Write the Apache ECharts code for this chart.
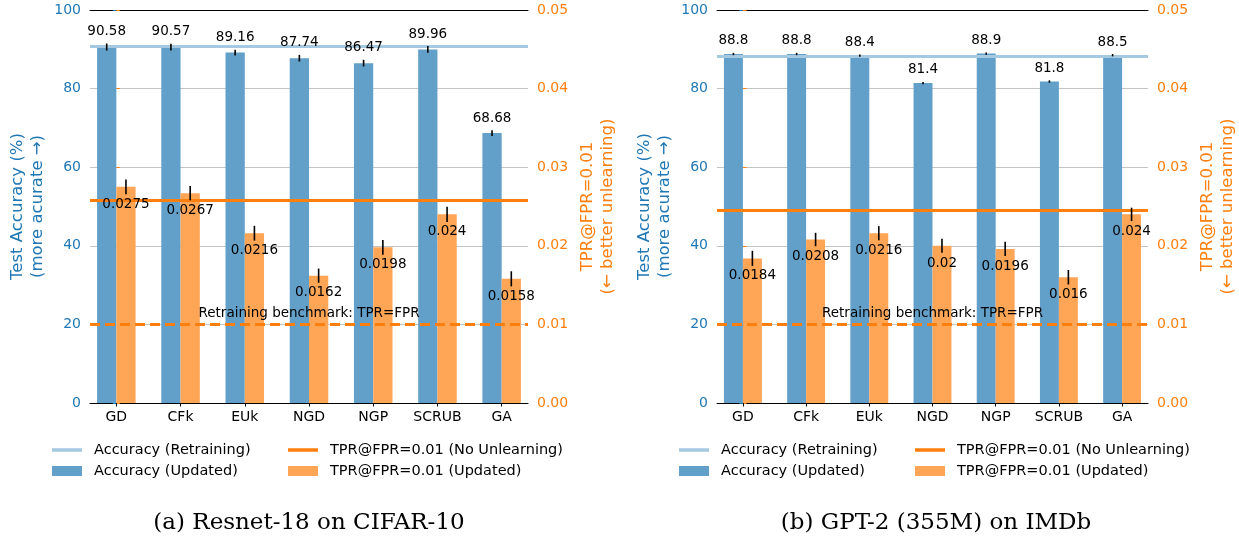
<!DOCTYPE html>
<html>
<head>
<meta charset="utf-8">
<script src="https://cdn.jsdelivr.net/npm/echarts@6/dist/echarts.min.js"></script>
<style>
html,body{margin:0;padding:0;background:#fff;}
#chart{width:1239px;height:539px;}
</style>
</head>
<body>
<div id="chart"></div>
<script>
// ---------- data ----------
const categories = ['GD', 'CFk', 'EUk', 'NGD', 'NGP', 'SCRUB', 'GA'];

// (a) Resnet-18 on CIFAR-10
const accA = [90.58, 90.57, 89.16, 87.74, 86.47, 89.96, 68.68];
const accErrA = [0.9, 0.85, 0.75, 0.85, 0.85, 0.85, 0.75];
const tprA = [0.0275, 0.0267, 0.0216, 0.0162, 0.0198, 0.024, 0.0158];
const tprErrA = [0.00095, 0.0009, 0.00094, 0.0009, 0.00094, 0.00098, 0.00096];
const accRetrainA = 90.7;
const tprNoUnlearnA = 0.0258;

// (b) GPT-2 (355M) on IMDb
const accB = [88.8, 88.8, 88.4, 81.4, 88.9, 81.8, 88.5];
const accErrB = [0.3, 0.3, 0.3, 0.3, 0.3, 0.3, 0.3];
const tprB = [0.0184, 0.0208, 0.0216, 0.02, 0.0196, 0.016, 0.024];
const tprErrB = [0.00096, 0.00085, 0.0009, 0.0009, 0.0009, 0.00092, 0.00085];
const accRetrainB = 88.3;
const tprNoUnlearnB = 0.0245;

const benchmarkTPR = 0.01;
const accAxisTicks = { min: 0, max: 100, interval: 20 };
const tprAxisTicks = { min: 0, max: 0.05, interval: 0.01 };
const xLimits = [-0.41, 6.41];
const captions = ['(a) Resnet-18 on CIFAR-10', '(b) GPT-2 (355M) on IMDb'];
const legendNames = ['Accuracy (Retraining)', 'Accuracy (Updated)', 'TPR@FPR=0.01 (No Unlearning)', 'TPR@FPR=0.01 (Updated)'];

// ---------- styles ----------
const FONT = 'DejaVu Sans';
const BLUE = '#1f77b4', ORANGE = '#ff7f0e';
const BAR_BLUE = '#62a0ca', BAR_ORANGE = '#ffa556';
const RETRAIN_BLUE = '#a5c9e1';
const BAR_W = 0.3;

const grids = [
  { left: 90, top: 10, width: 438, height: 393 },
  { left: 717, top: 10, width: 438, height: 393 }
];

function barRender(offset, color) {
  return function (params, api) {
    const i = api.value(0), v = api.value(1);
    const p0 = api.coord([i + offset, 0]);
    const p1 = api.coord([i + offset + BAR_W, v]);
    return {
      type: 'rect',
      shape: { x: p0[0], y: p1[1], width: p1[0] - p0[0], height: p0[1] - p1[1] },
      style: { fill: color }
    };
  };
}

function errRender(offset, above) {
  return function (params, api) {
    const i = api.value(0), v = api.value(1), e = api.value(2);
    const c = api.coord([i + offset, v]);
    const t = api.coord([i + offset, v + e]);
    const b = api.coord([i + offset, v - e]);
    const text = String(api.value(3));
    const ty = above ? t[1] - 5 : c[1] + 17.3;
    return {
      type: 'group',
      children: [
        { type: 'line', shape: { x1: c[0], y1: t[1], x2: c[0], y2: b[1] },
          style: { stroke: '#000', lineWidth: 1.6 } },
        { type: 'text', x: c[0], y: ty,
          style: { text: text, fill: '#000', font: '13.5px "' + FONT + '"',
                   align: 'center', verticalAlign: above ? 'bottom' : 'middle' } }
      ]
    };
  };
}

function hLine(value, color, width, type) {
  return {
    silent: true, symbol: 'none', animation: false, precision: 6, label: { show: false },
    lineStyle: { color: color, width: width, type: type }, data: [{ yAxis: value }]
  };
}

const option = {
  animation: false,
  backgroundColor: '#fff',
  textStyle: { fontFamily: FONT },
  grid: grids,
  xAxis: [],
  yAxis: [],
  series: [],
  legend: [],
  graphic: []
};

const datasets = [
  { acc: accA, accErr: accErrA, tpr: tprA, tprErr: tprErrA, retrain: accRetrainA, noUnlearn: tprNoUnlearnA },
  { acc: accB, accErr: accErrB, tpr: tprB, tprErr: tprErrB, retrain: accRetrainB, noUnlearn: tprNoUnlearnB }
];

const tickIdx = categories.map((c, i) => i);

datasets.forEach((d, g) => {
  option.xAxis.push({
    type: 'value', gridIndex: g, position: 'bottom', min: xLimits[0], max: xLimits[1],
    axisLine: { show: true, onZero: false, lineStyle: { color: '#000', width: 1 } },
    axisTick: { show: true, customValues: tickIdx, length: 3.5, lineStyle: { color: '#000' } },
    axisLabel: { show: true, customValues: tickIdx, margin: 7, fontSize: 14, color: '#000', fontFamily: FONT,
                 formatter: v => categories[Math.round(v)] },
    splitLine: { show: false }
  });
  // top spine
  option.xAxis.push({
    type: 'value', gridIndex: g, position: 'top', min: xLimits[0], max: xLimits[1],
    axisLine: { show: true, onZero: false, lineStyle: { color: '#000', width: 1 } },
    axisTick: { show: false }, axisLabel: { show: false }, splitLine: { show: false }
  });
  option.yAxis.push({
    type: 'value', gridIndex: g, position: 'left',
    min: accAxisTicks.min, max: accAxisTicks.max, interval: accAxisTicks.interval,
    name: 'Test Accuracy (%)\n(more acurate →)', nameLocation: 'middle', nameRotate: 90, nameGap: 42,
    nameTextStyle: { color: BLUE, fontSize: 16.5, lineHeight: 20, fontFamily: FONT },
    axisLine: { show: false },
    axisTick: { show: true, length: 3.5, lineStyle: { color: BLUE } },
    axisLabel: { color: BLUE, fontSize: 14, margin: 9, fontFamily: FONT },
    splitLine: { show: true, showMinLine: false, showMaxLine: false, lineStyle: { color: '#c4c4c4', width: 1 } }
  });
  option.yAxis.push({
    type: 'value', gridIndex: g, position: 'right',
    min: tprAxisTicks.min, max: tprAxisTicks.max, interval: tprAxisTicks.interval,
    name: 'TPR@FPR=0.01\n(← better unlearning)', nameLocation: 'middle', nameRotate: 90, nameGap: 50,
    nameTextStyle: { color: ORANGE, fontSize: 16.5, lineHeight: 20, fontFamily: FONT },
    axisLine: { show: false },
    axisTick: { show: true, length: 3.5, lineStyle: { color: ORANGE } },
    axisLabel: { color: ORANGE, fontSize: 14, margin: 9, fontFamily: FONT, formatter: v => v.toFixed(2) },
    splitLine: { show: false }
  });
  const xI = g * 2, yL = g * 2, yR = g * 2 + 1;
  const accData = categories.map((c, i) => [i, d.acc[i], d.accErr[i], d.acc[i]]);
  const tprData = categories.map((c, i) => [i, d.tpr[i], d.tprErr[i], d.tpr[i]]);

  option.series.push({
    name: 'Accuracy (Updated)', type: 'custom', xAxisIndex: xI, yAxisIndex: yL, z: 2,
    renderItem: barRender(-BAR_W, BAR_BLUE), encode: { x: 0, y: 1 }, data: accData,
    itemStyle: { color: BAR_BLUE }
  });
  option.series.push({
    name: 'TPR@FPR=0.01 (Updated)', type: 'custom', xAxisIndex: xI, yAxisIndex: yR, z: 2,
    renderItem: barRender(0, BAR_ORANGE), encode: { x: 0, y: 1 }, data: tprData,
    itemStyle: { color: BAR_ORANGE }
  });
  option.series.push({
    name: 'Accuracy (Retraining)', type: 'line', xAxisIndex: xI, yAxisIndex: yL, z: 3, data: [],
    itemStyle: { color: RETRAIN_BLUE }, lineStyle: { color: RETRAIN_BLUE },
    markLine: hLine(d.retrain, RETRAIN_BLUE, 3, 'solid')
  });
  option.series.push({
    name: 'TPR@FPR=0.01 (No Unlearning)', type: 'line', xAxisIndex: xI, yAxisIndex: yR, z: 3, data: [],
    itemStyle: { color: ORANGE }, lineStyle: { color: ORANGE },
    markLine: hLine(d.noUnlearn, ORANGE, 3, 'solid')
  });
  const bench = hLine(benchmarkTPR, ORANGE, 3, [10, 5]);
  bench.label = { show: true, position: 'insideMiddleTop', distance: 4, formatter: 'Retraining benchmark: TPR=FPR',
                  color: '#000', fontSize: 13.5, fontFamily: FONT };
  option.series.push({
    name: 'benchmark', type: 'line', xAxisIndex: xI, yAxisIndex: yR, z: 3, data: [],
    markLine: bench
  });
  option.series.push({
    name: 'accErr', type: 'custom', xAxisIndex: xI, yAxisIndex: yL, z: 5, clip: false,
    renderItem: errRender(-BAR_W / 2, true), encode: { x: 0, y: 1 }, data: accData
  });
  option.series.push({
    name: 'tprErr', type: 'custom', xAxisIndex: xI, yAxisIndex: yR, z: 5, clip: false,
    renderItem: errRender(BAR_W / 2, false), encode: { x: 0, y: 1 }, data: tprData
  });

  // legends
  const gx = grids[g].left;
  const col1 = gx - 38, col2 = gx + 198;
  const row1 = 441.5, row2 = 462.5;
  const legendItems = [
    { name: legendNames[0], left: col1, top: row1, w: 30, h: 3.5, color: RETRAIN_BLUE },
    { name: legendNames[1], left: col1, top: row2, w: 30, h: 10, color: BAR_BLUE },
    { name: legendNames[2], left: col2, top: row1, w: 30, h: 3.5, color: ORANGE },
    { name: legendNames[3], left: col2, top: row2, w: 30, h: 10, color: BAR_ORANGE }
  ];
  legendItems.forEach(it => {
    option.legend.push({
      left: it.left, top: it.top, padding: 0, itemGap: 0, selectedMode: false,
      itemWidth: it.w, itemHeight: it.h,
      textStyle: { fontSize: 14.5, color: '#000', fontFamily: FONT, lineHeight: 17, padding: [0, 0, 0, 7] },
      data: [{ name: it.name, icon: 'rect', itemStyle: { color: it.color, borderWidth: 0 } }]
    });
  });

  option.graphic.push({
    type: 'text', x: grids[g].left + grids[g].width / 2, y: 523,
    style: { text: captions[g], fill: '#000', font: '23px "DejaVu Serif"', align: 'center', verticalAlign: 'middle' }
  });
});

const chart = echarts.init(document.getElementById('chart'), null, { renderer: 'canvas' });
chart.setOption(option);
</script>
</body>
</html>
